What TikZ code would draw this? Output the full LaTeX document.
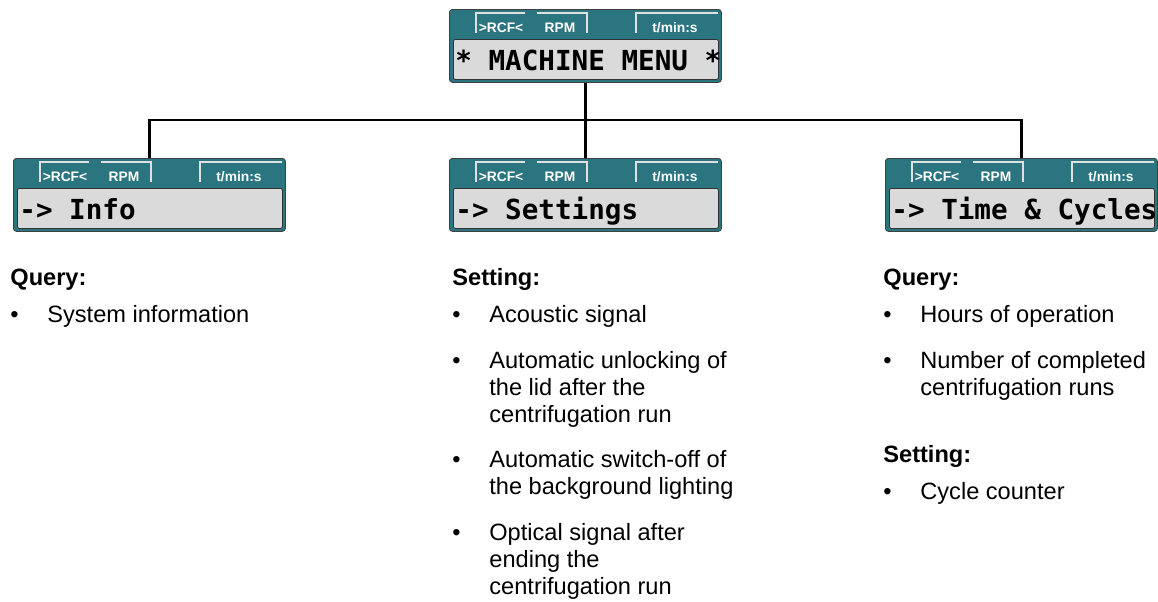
\documentclass[tikz,border=0pt]{standalone}
\usepackage{fontspec}
\setmainfont{Liberation Sans}
\newfontfamily\lcdfont{DejaVu Sans Mono}

\definecolor{lcdteal}{RGB}{42,117,128}
\definecolor{lcdgray}{RGB}{218,218,218}

% one display: name, x, y, text
\newcommand{\lcdbox}[4]{%
  \begin{scope}[shift={(#2,#3)}]
    \node[lcdframe] (#1) at (0,0) {};
    \node[lcdpanel] (#1panel) at (4,30) {};
    \node[lcdtext] (#1text) at (6,61) {#4};
    \draw[tabline] (27,24) -- (27,4) -- (76,4);
    \draw[tabline] (88,4) -- (138,4) -- (138,24);
    \draw[tabline] (187,24) -- (187,4) -- (269,4);
    \node[tabtext] (#1rcf) at (52,23.5) {>RCF<};
    \node[tabtext] (#1rpm) at (111,23.5) {RPM};
    \node[tabtext] (#1time) at (226,23.5) {t/min:s};
  \end{scope}}

\newcommand{\bulletitem}[1]{\makebox[18.5pt][l]{\textbullet}\parbox[t]{150pt}{\raggedright #1}}

\begin{document}
\begin{tikzpicture}[x=0.5pt, y=-0.5pt,
    lcdframe/.style={draw=black!75, fill=lcdteal, rounded corners=1.5pt, minimum width=136pt, minimum height=36.5pt, inner sep=0pt, anchor=north west},
    lcdpanel/.style={draw=black!80, fill=lcdgray, line width=0.4pt, rounded corners=1pt, minimum width=132.5pt, minimum height=20pt, inner sep=0pt, anchor=north west},
    lcdtext/.style={font=\lcdfont\bfseries\fontsize{13.8}{14}\selectfont, inner sep=0pt, anchor=base west},
    tabline/.style={draw=black!12, line width=1.2pt},
    tabtext/.style={text=white, font=\bfseries\fontsize{6.9}{8}\selectfont, inner sep=0pt, anchor=base},
    head/.style={font=\bfseries\fontsize{11.8}{13.5}\selectfont, inner sep=0pt, anchor=base west},
    item/.style={font=\fontsize{11.8}{13.5}\selectfont, inner sep=0pt, anchor=base west},
    link/.style={line width=1.3pt}]
    \useasboundingbox (0,0) rectangle (1158,601);

    % Displays
    \lcdbox{menu}{449}{9}{* MACHINE MENU *}
    \lcdbox{info}{13}{158}{-> Info}
    \lcdbox{settings}{449}{158}{-> Settings}
    \lcdbox{cycles}{885}{158}{-> Time \& Cycles}

    % Edges
    \coordinate (split) at (585,120);
    \draw[link] (menu.south) -- (settings.north);
    \draw[link] (info.north) |- (split);
    \draw[link] (cycles.north) |- (split);

    % Info
    \node[head] (infohead) at (10,285) {Query:};
    \node[item] (info1) at (10,322) {\bulletitem{System information}};

    % Settings
    \node[head] (sethead) at (452,285) {Setting:};
    \node[item] (set1) at (452,322) {\bulletitem{Acoustic signal}};
    \node[item] (set2) at (452,368) {\bulletitem{Automatic unlocking of\\the lid after the\\centrifugation run}};
    \node[item] (set3) at (452,467) {\bulletitem{Automatic switch-off of\\the background lighting}};
    \node[item] (set4) at (452,540) {\bulletitem{Optical signal after\\ending the\\centrifugation run}};

    % Time & Cycles
    \node[head] (cychead) at (883,285) {Query:};
    \node[item] (cyc1) at (883,322) {\bulletitem{Hours of operation}};
    \node[item] (cyc2) at (883,368) {\bulletitem{Number of completed\\centrifugation runs}};
    \node[head] (cychead2) at (883,462) {Setting:};
    \node[item] (cyc3) at (883,499) {\bulletitem{Cycle counter}};
\end{tikzpicture}
\end{document}
